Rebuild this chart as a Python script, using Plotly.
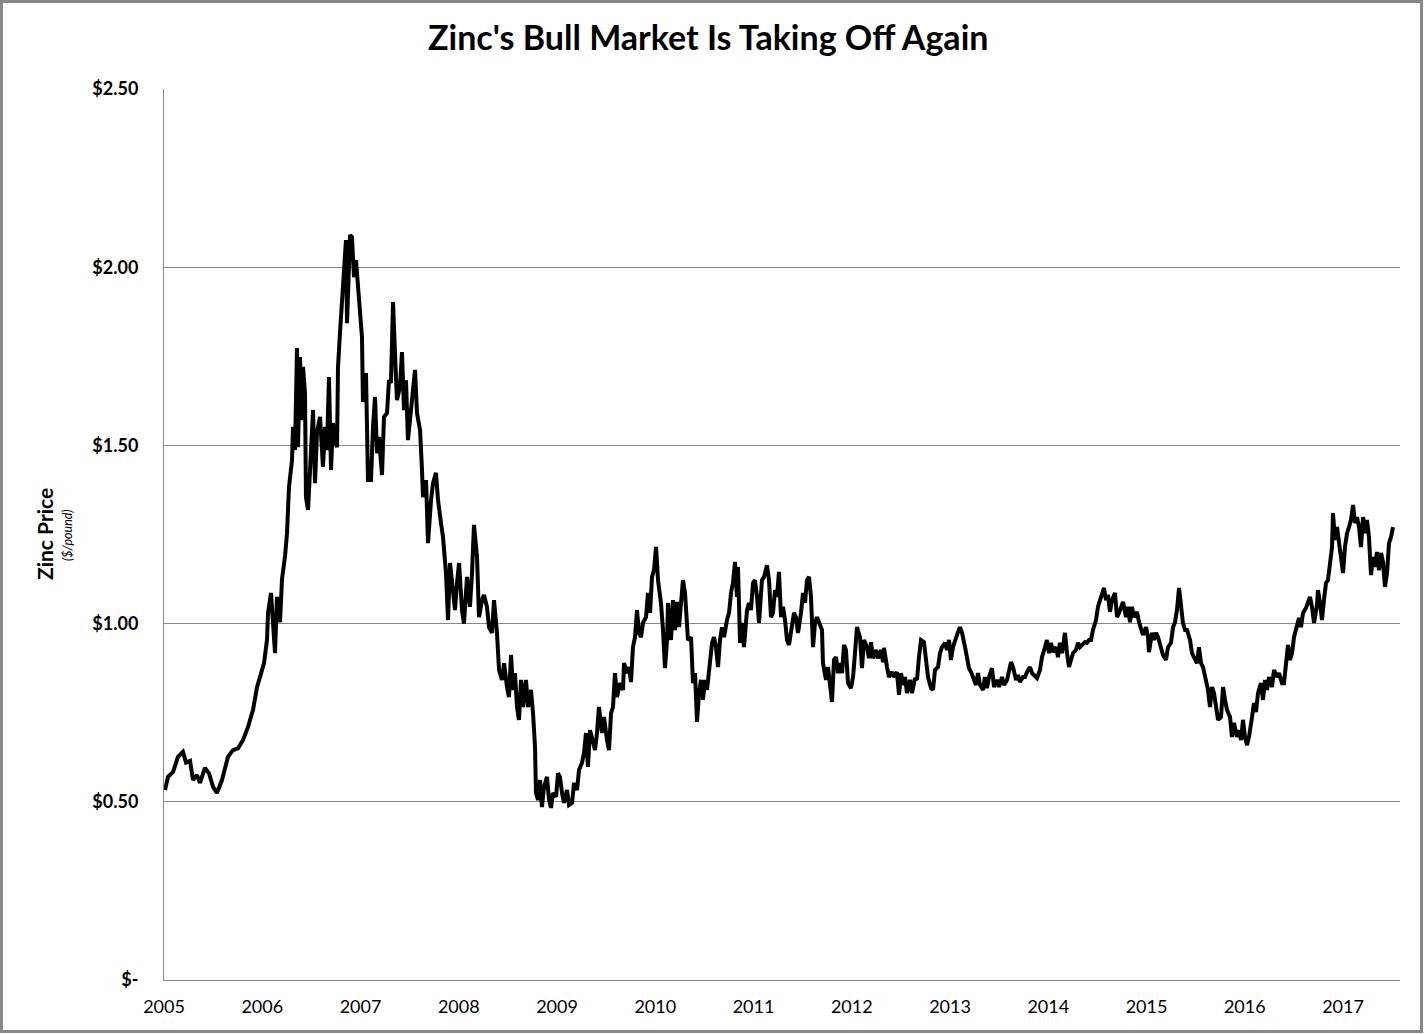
import plotly.graph_objects as go

# Zinc price ($/pound); x = decimal year
years = [
    2005.010, 2005.041, 2005.092, 2005.142, 2005.193, 2005.224, 2005.265, 2005.295, 2005.336, 2005.366,
    2005.417, 2005.458, 2005.499, 2005.539, 2005.590, 2005.651, 2005.702, 2005.753, 2005.804, 2005.855,
    2005.906, 2005.947, 2005.977, 2006.018, 2006.048, 2006.059, 2006.089, 2006.109, 2006.130, 2006.150,
    2006.181, 2006.201, 2006.232, 2006.252, 2006.272, 2006.303, 2006.313, 2006.333, 2006.354, 2006.364,
    2006.384, 2006.405, 2006.415, 2006.435, 2006.445, 2006.466, 2006.496, 2006.517, 2006.537, 2006.557,
    2006.588, 2006.618, 2006.639, 2006.659, 2006.679, 2006.700, 2006.720, 2006.740, 2006.761, 2006.771,
    2006.791, 2006.812, 2006.832, 2006.852, 2006.863, 2006.883, 2006.893, 2006.913, 2006.934, 2006.954,
    2006.975, 2006.995, 2007.015, 2007.025, 2007.056, 2007.076, 2007.107, 2007.127, 2007.148, 2007.168,
    2007.188, 2007.219, 2007.239, 2007.270, 2007.290, 2007.310, 2007.331, 2007.351, 2007.371, 2007.402,
    2007.422, 2007.443, 2007.463, 2007.483, 2007.514, 2007.534, 2007.555, 2007.575, 2007.606, 2007.626,
    2007.636, 2007.667, 2007.687, 2007.718, 2007.738, 2007.768, 2007.789, 2007.819, 2007.840, 2007.870,
    2007.891, 2007.911, 2007.941, 2007.962, 2007.982, 2008.003, 2008.033, 2008.053, 2008.084, 2008.114,
    2008.135, 2008.155, 2008.186, 2008.206, 2008.237, 2008.257, 2008.287, 2008.308, 2008.338, 2008.359,
    2008.389, 2008.410, 2008.440, 2008.461, 2008.491, 2008.511, 2008.532, 2008.552, 2008.572, 2008.593,
    2008.613, 2008.634, 2008.654, 2008.684, 2008.705, 2008.735, 2008.756, 2008.776, 2008.786, 2008.807,
    2008.827, 2008.847, 2008.868, 2008.898, 2008.919, 2008.939, 2008.959, 2008.990, 2009.010, 2009.030,
    2009.051, 2009.071, 2009.102, 2009.122, 2009.153, 2009.173, 2009.204, 2009.224, 2009.254, 2009.275,
    2009.295, 2009.315, 2009.336, 2009.366, 2009.387, 2009.407, 2009.427, 2009.458, 2009.478, 2009.509,
    2009.529, 2009.550, 2009.570, 2009.590, 2009.611, 2009.641, 2009.672, 2009.682, 2009.712, 2009.733,
    2009.753, 2009.773, 2009.794, 2009.814, 2009.835, 2009.855, 2009.875, 2009.906, 2009.926, 2009.947,
    2009.967, 2009.987, 2010.008, 2010.028, 2010.058, 2010.079, 2010.099, 2010.120, 2010.130, 2010.160,
    2010.181, 2010.201, 2010.221, 2010.242, 2010.262, 2010.282, 2010.303, 2010.323, 2010.333, 2010.364,
    2010.384, 2010.405, 2010.425, 2010.445, 2010.466, 2010.486, 2010.506, 2010.527, 2010.547, 2010.578,
    2010.598, 2010.618, 2010.639, 2010.659, 2010.679, 2010.700, 2010.730, 2010.751, 2010.771, 2010.791,
    2010.812, 2010.832, 2010.842, 2010.863, 2010.883, 2010.903, 2010.934, 2010.954, 2010.974, 2010.995,
    2011.015, 2011.036, 2011.056, 2011.086, 2011.107, 2011.137, 2011.158, 2011.178, 2011.198, 2011.219,
    2011.239, 2011.259, 2011.280, 2011.300, 2011.321, 2011.341, 2011.361, 2011.392, 2011.412, 2011.432,
    2011.453, 2011.483, 2011.504, 2011.524, 2011.544, 2011.565, 2011.585, 2011.606, 2011.626, 2011.646,
    2011.667, 2011.697, 2011.707, 2011.738, 2011.758, 2011.779, 2011.799, 2011.819, 2011.840, 2011.860,
    2011.880, 2011.901, 2011.921, 2011.941, 2011.962, 2011.992, 2012.013, 2012.033, 2012.053, 2012.084,
    2012.104, 2012.125, 2012.155, 2012.175, 2012.196, 2012.216, 2012.247, 2012.267, 2012.298, 2012.318,
    2012.328, 2012.359, 2012.379, 2012.410, 2012.430, 2012.460, 2012.481, 2012.501, 2012.522, 2012.542,
    2012.562, 2012.593, 2012.613, 2012.644, 2012.664, 2012.684, 2012.705, 2012.735, 2012.756, 2012.776,
    2012.807, 2012.827, 2012.847, 2012.878, 2012.898, 2012.918, 2012.949, 2012.969, 2012.990, 2013.010,
    2013.030, 2013.051, 2013.081, 2013.102, 2013.122, 2013.153, 2013.173, 2013.193, 2013.214, 2013.244,
    2013.265, 2013.285, 2013.305, 2013.336, 2013.356, 2013.376, 2013.397, 2013.427, 2013.448, 2013.478,
    2013.499, 2013.529, 2013.550, 2013.580, 2013.600, 2013.621, 2013.641, 2013.672, 2013.692, 2013.712,
    2013.743, 2013.763, 2013.784, 2013.814, 2013.835, 2013.865, 2013.885, 2013.916, 2013.936, 2013.967,
    2013.987, 2014.008, 2014.028, 2014.048, 2014.079, 2014.099, 2014.119, 2014.140, 2014.170, 2014.191,
    2014.211, 2014.231, 2014.252, 2014.282, 2014.303, 2014.323, 2014.343, 2014.374, 2014.394, 2014.415,
    2014.435, 2014.455, 2014.486, 2014.506, 2014.527, 2014.547, 2014.567, 2014.588, 2014.608, 2014.628,
    2014.649, 2014.679, 2014.700, 2014.720, 2014.740, 2014.761, 2014.791, 2014.812, 2014.832, 2014.852,
    2014.873, 2014.903, 2014.924, 2014.944, 2014.964, 2014.995, 2015.015, 2015.025, 2015.056, 2015.076,
    2015.097, 2015.117, 2015.147, 2015.168, 2015.198, 2015.219, 2015.249, 2015.270, 2015.290, 2015.310,
    2015.331, 2015.351, 2015.371, 2015.392, 2015.412, 2015.443, 2015.463, 2015.483, 2015.514, 2015.534,
    2015.555, 2015.575, 2015.605, 2015.626, 2015.646, 2015.667, 2015.687, 2015.707, 2015.728, 2015.758,
    2015.779, 2015.799, 2015.819, 2015.850, 2015.870, 2015.890, 2015.921, 2015.941, 2015.962, 2015.982,
    2016.002, 2016.023, 2016.043, 2016.074, 2016.094, 2016.114, 2016.135, 2016.165, 2016.186, 2016.206,
    2016.226, 2016.247, 2016.277, 2016.298, 2016.328, 2016.348, 2016.379, 2016.399, 2016.420, 2016.440,
    2016.460, 2016.481, 2016.501, 2016.532, 2016.552, 2016.572, 2016.593, 2016.623, 2016.644, 2016.664,
    2016.684, 2016.705, 2016.735, 2016.745, 2016.766, 2016.786, 2016.806, 2016.827, 2016.847, 2016.868,
    2016.888, 2016.898, 2016.918, 2016.939, 2016.959, 2016.990, 2017.000, 2017.020, 2017.041, 2017.061,
    2017.081, 2017.102, 2017.122, 2017.142, 2017.163, 2017.183, 2017.204, 2017.224, 2017.244, 2017.264,
    2017.285, 2017.305, 2017.325, 2017.346, 2017.366, 2017.387, 2017.407, 2017.427, 2017.448, 2017.468,
    2017.489, 2017.509,
]

prices = [
    0.533, 0.570, 0.584, 0.626, 0.640, 0.610, 0.615, 0.561, 0.575, 0.553,
    0.595, 0.580, 0.542, 0.525, 0.561, 0.626, 0.645, 0.650, 0.673, 0.710,
    0.758, 0.822, 0.850, 0.889, 0.954, 1.030, 1.086, 1.018, 0.917, 1.075,
    1.004, 1.125, 1.190, 1.254, 1.383, 1.459, 1.552, 1.487, 1.773, 1.495,
    1.748, 1.571, 1.720, 1.647, 1.355, 1.319, 1.459, 1.599, 1.394, 1.535,
    1.580, 1.440, 1.552, 1.487, 1.692, 1.431, 1.563, 1.515, 1.495, 1.720,
    1.815, 1.900, 2.012, 2.076, 1.843, 2.020, 2.090, 2.085, 1.972, 2.020,
    1.944, 1.888, 1.804, 1.622, 1.703, 1.403, 1.403, 1.552, 1.636, 1.478,
    1.524, 1.417, 1.580, 1.591, 1.683, 1.675, 1.902, 1.759, 1.627, 1.664,
    1.762, 1.599, 1.683, 1.515, 1.591, 1.647, 1.712, 1.591, 1.543, 1.431,
    1.355, 1.403, 1.226, 1.347, 1.394, 1.423, 1.347, 1.282, 1.243, 1.142,
    1.010, 1.170, 1.075, 1.038, 1.114, 1.170, 1.038, 1.000, 1.131, 1.047,
    1.142, 1.277, 1.187, 1.018, 1.066, 1.080, 1.047, 0.990, 0.974, 1.066,
    0.974, 0.870, 0.842, 0.889, 0.822, 0.794, 0.912, 0.814, 0.861, 0.766,
    0.730, 0.842, 0.766, 0.842, 0.766, 0.814, 0.749, 0.654, 0.525, 0.505,
    0.561, 0.485, 0.542, 0.570, 0.505, 0.483, 0.525, 0.514, 0.580, 0.570,
    0.525, 0.497, 0.533, 0.491, 0.497, 0.553, 0.533, 0.589, 0.609, 0.637,
    0.693, 0.598, 0.701, 0.665, 0.645, 0.693, 0.766, 0.693, 0.738, 0.673,
    0.645, 0.749, 0.766, 0.861, 0.794, 0.833, 0.814, 0.889, 0.861, 0.878,
    0.836, 0.934, 0.962, 1.038, 0.974, 0.962, 1.002, 1.018, 1.086, 1.030,
    1.131, 1.150, 1.215, 1.122, 1.058, 0.982, 0.875, 0.954, 1.058, 0.954,
    1.066, 0.982, 1.061, 0.990, 1.075, 1.122, 1.086, 1.018, 0.954, 0.962,
    0.833, 0.861, 0.724, 0.805, 0.842, 0.786, 0.842, 0.814, 0.878, 0.946,
    0.962, 0.934, 0.878, 0.954, 0.990, 0.962, 1.010, 1.030, 1.086, 1.114,
    1.173, 1.075, 1.159, 0.946, 1.002, 0.934, 1.038, 1.058, 1.038, 1.114,
    1.122, 1.075, 1.002, 1.122, 1.131, 1.164, 1.122, 1.018, 1.030, 1.094,
    1.075, 1.145, 1.018, 1.047, 1.010, 0.954, 0.940, 0.990, 1.030, 1.018,
    0.974, 1.030, 1.086, 1.058, 1.122, 1.131, 1.075, 0.934, 1.002, 1.018,
    1.002, 0.982, 0.889, 0.842, 0.878, 0.833, 0.780, 0.898, 0.906, 0.861,
    0.889, 0.861, 0.940, 0.926, 0.833, 0.819, 0.850, 0.917, 0.990, 0.962,
    0.875, 0.954, 0.934, 0.903, 0.948, 0.903, 0.926, 0.903, 0.926, 0.892,
    0.932, 0.878, 0.850, 0.864, 0.850, 0.864, 0.800, 0.861, 0.828, 0.850,
    0.805, 0.842, 0.805, 0.847, 0.842, 0.906, 0.954, 0.948, 0.906, 0.850,
    0.819, 0.814, 0.870, 0.878, 0.917, 0.934, 0.946, 0.926, 0.954, 0.898,
    0.934, 0.954, 0.976, 0.990, 0.974, 0.934, 0.898, 0.875, 0.864, 0.842,
    0.828, 0.861, 0.828, 0.814, 0.850, 0.819, 0.850, 0.875, 0.822, 0.842,
    0.822, 0.850, 0.828, 0.842, 0.870, 0.892, 0.878, 0.842, 0.856, 0.836,
    0.850, 0.850, 0.864, 0.878, 0.861, 0.850, 0.847, 0.870, 0.906, 0.934,
    0.954, 0.917, 0.946, 0.920, 0.934, 0.906, 0.946, 0.917, 0.974, 0.917,
    0.878, 0.898, 0.917, 0.926, 0.946, 0.934, 0.940, 0.948, 0.946, 0.954,
    0.954, 0.982, 1.010, 1.047, 1.066, 1.086, 1.100, 1.066, 1.080, 1.033,
    1.066, 1.086, 1.018, 1.030, 1.047, 1.061, 1.018, 1.047, 1.004, 1.047,
    1.018, 1.033, 1.004, 0.988, 0.968, 0.990, 0.962, 0.920, 0.974, 0.954,
    0.974, 0.962, 0.926, 0.912, 0.898, 0.934, 0.946, 0.990, 1.004, 1.038,
    1.100, 1.047, 1.002, 0.982, 0.982, 0.954, 0.917, 0.906, 0.889, 0.934,
    0.889, 0.878, 0.842, 0.814, 0.766, 0.822, 0.805, 0.766, 0.730, 0.738,
    0.822, 0.786, 0.758, 0.738, 0.682, 0.721, 0.682, 0.701, 0.673, 0.730,
    0.682, 0.659, 0.682, 0.738, 0.777, 0.752, 0.805, 0.833, 0.786, 0.842,
    0.814, 0.850, 0.822, 0.870, 0.850, 0.861, 0.833, 0.833, 0.898, 0.940,
    0.898, 0.917, 0.962, 1.002, 1.016, 0.990, 1.030, 1.044, 1.058, 1.075,
    1.047, 1.002, 1.052, 1.094, 1.058, 1.010, 1.066, 1.114, 1.122, 1.178,
    1.215, 1.310, 1.235, 1.271, 1.226, 1.178, 1.142, 1.215, 1.254, 1.271,
    1.291, 1.333, 1.282, 1.299, 1.271, 1.215, 1.299, 1.254, 1.291, 1.243,
    1.136, 1.187, 1.159, 1.201, 1.150, 1.198, 1.173, 1.103, 1.142, 1.226,
    1.243, 1.271,
]

year_ticks = list(range(2005, 2018))
year_labels = [str(y) for y in year_ticks]
price_ticks = [0, 0.5, 1.0, 1.5, 2.0, 2.5]
price_labels = ["$-", "$0.50", "$1.00", "$1.50", "$2.00", "$2.50"]

FONT = "Lato, 'Open Sans', sans-serif"
GRID = "#878787"

fig = go.Figure()
fig.add_trace(go.Scatter(
    x=years, y=prices, mode="lines",
    line=dict(color="#000000", width=4),
    hoverinfo="x+y", showlegend=False,
))

W, H = 1425, 1034
L, R, T, B = 164, 1400, 89, 980
pw, ph = R - L, B - T

def px_x(px):
    return (px - L) / pw

def px_y(py):
    return (B - py) / ph

fig.update_layout(
    width=W, height=H,
    margin=dict(l=L, r=W - R, t=T, b=H - B, pad=0),
    paper_bgcolor="white", plot_bgcolor="white",
    font=dict(family=FONT, color="#000000"),
    title=dict(
        text="<b>Zinc's Bull Market Is Taking Off Again</b>",
        x=0.497, xanchor="center", y=1 - 38 / H, yanchor="middle",
        yref="container", font=dict(size=34, family=FONT, color="#000000"),
    ),
    xaxis=dict(
        range=[2005, 2017.58], tickmode="array",
        tickvals=year_ticks, ticktext=year_labels,
        showgrid=False, zeroline=False,
        showline=True, linecolor=GRID, linewidth=1,
        ticks="outside", ticklen=10, tickcolor="rgba(0,0,0,0)",
        tickfont=dict(size=18, family=FONT, color="#000000"),
    ),
    yaxis=dict(
        range=[0, 2.5001], tickmode="array",
        tickvals=price_ticks, ticktext=price_labels,
        showgrid=True, gridcolor=GRID, gridwidth=1, zeroline=False,
        showline=True, linecolor=GRID, linewidth=1,
        ticks="outside", ticklen=21, tickcolor="rgba(0,0,0,0)",
        tickfont=dict(size=18, family=FONT, color="#000000", weight=700),
    ),
    annotations=[
        dict(text="<b>Zinc Price</b>", textangle=-90,
             xref="paper", yref="paper", x=px_x(44), y=px_y(534),
             xanchor="center", yanchor="middle", showarrow=False,
             font=dict(size=21, family=FONT, color="#000000")),
        dict(text="<i>($/pound)</i>", textangle=-90,
             xref="paper", yref="paper", x=px_x(67), y=px_y(535),
             xanchor="center", yanchor="middle", showarrow=False,
             font=dict(size=12.5, family=FONT, color="#000000")),
    ],
    shapes=[
        dict(type="rect", xref="paper", yref="paper",
             x0=px_x(1.5), x1=px_x(1421.5), y0=px_y(1031.5), y1=px_y(1.5),
             line=dict(color=GRID, width=3), fillcolor="rgba(0,0,0,0)",
             layer="below"),
    ],
)

fig.write_html("out.html")
